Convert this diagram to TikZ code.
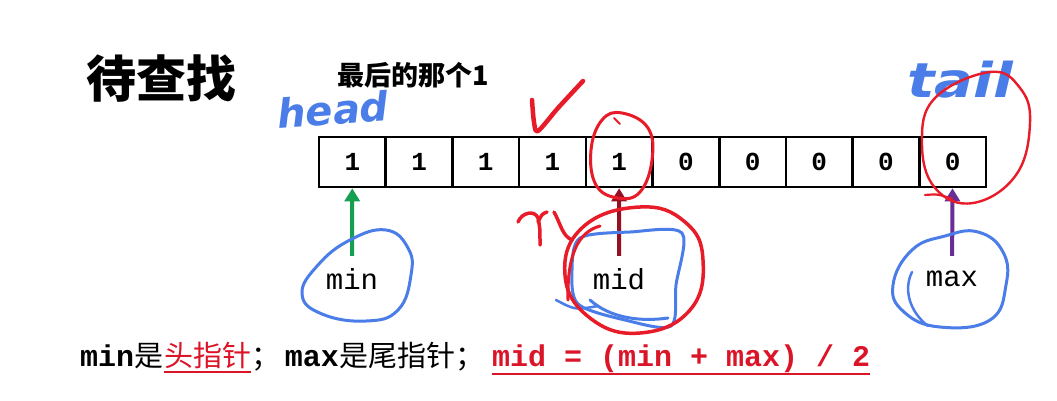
\documentclass[tikz,border=0pt]{standalone}
\usepackage{fontspec}
\setmonofont{Liberation Mono}
\newfontfamily\cjk{Noto Sans CJK SC}
\newfontfamily\handfont{DejaVu Sans}
\usetikzlibrary{arrows.meta}
\definecolor{penblue}{RGB}{74,125,232}
\definecolor{penred}{RGB}{232,28,40}
\definecolor{txtred}{RGB}{220,20,40}
\definecolor{arrgreen}{RGB}{20,160,80}
\definecolor{arrdred}{RGB}{150,15,35}
\definecolor{arrpurple}{RGB}{105,45,150}
\tikzset{
  cellbox/.style={draw, line width=2.6pt, minimum width=66.7pt, minimum height=50pt, inner sep=0pt,
    font=\ttfamily\bfseries\fontsize{26}{26}\selectfont},
  ptrlabel/.style={minimum height=46pt, inner sep=0pt, font=\ttfamily\fontsize{29}{29}\selectfont},
  ptrarrow/.style={line width=4pt, -{Triangle[width=15pt,length=13pt]}},
  bottomtxt/.style={anchor=base west, inner sep=0pt},
  monob/.style={font=\ttfamily\bfseries\fontsize{30}{30}\selectfont},
  cjkt/.style={font=\cjk\fontsize{29}{29}\selectfont},
  bluepen/.style={draw=penblue, line width=3.5pt, line cap=round, line join=round},
  redpen/.style={draw=penred, line width=3pt, line cap=round, line join=round},
  handtxt/.style={text=penblue, font=\handfont\bfseries\itshape}
}
\begin{document}
\begin{tikzpicture}[x=1pt,y=-1pt]
\useasboundingbox[fill=white] (0,0) rectangle (1057,400);

% titles
\node[font=\cjk\bfseries\fontsize{50}{50}\selectfont] (title) at (161,79) {待查找};
\node[font=\cjk\bfseries\fontsize{27}{27}\selectfont] (sub) at (413,75) {最后的那个\textbf{1}};

% cells
\foreach \v [count=\i from 0] in {1,1,1,1,1,0,0,0,0,0}
  \node[cellbox] (c\i) at ({319+66.7*(\i+0.5)},162) {\v};

% pointer labels
\node[ptrlabel] (min) at (352,279) {min};
\node[ptrlabel] (mid) at (619,279) {mid};
\node[ptrlabel] (max) at (952,279) {max};
\draw[ptrarrow, draw=arrgreen, fill=arrgreen] (min) -- (c0);
\draw[ptrarrow, draw=arrdred, fill=arrdred] (mid) -- (c4);
\draw[ptrarrow, draw=arrpurple, fill=arrpurple] (max) -- (c9);

% bottom line
\node[bottomtxt, monob] (b1) at (80,366) {min};
\node[bottomtxt, cjkt] (b2) at (b1.base east) {是};
\node[bottomtxt, cjkt, text=txtred] (b3) at (b2.base east) {头指针};
\node[bottomtxt, cjkt] (b4) at (b3.base east) {；};
\node[bottomtxt, monob] (b5) at ([xshift=4pt]b4.base east) {max};
\node[bottomtxt, cjkt] (b6) at (b5.base east) {是尾指针};
\node[bottomtxt, cjkt] (b7) at (b6.base east) {；};
\node[bottomtxt, monob, text=txtred] (b8) at ([xshift=7pt]b7.base east) {mid = (min + max) / 2};
\draw[txtred, line width=1.2pt] ([yshift=-6pt]b3.base west) -- ([yshift=-6pt]b3.base east);
\draw[txtred, line width=2.8pt] ([yshift=-8pt]b8.base west) -- ([yshift=-8pt]b8.base east);

% handwritten annotations
\node[handtxt, font=\handfont\bfseries\itshape\fontsize{40}{40}\selectfont, rotate=4] (head) at (333,110) {head};
\node[handtxt, font=\handfont\bfseries\itshape\fontsize{48}{48}\selectfont, xscale=1.2] (tail) at (960,80) {tail};

% check mark
\draw[redpen, line width=4.5pt] plot[smooth] coordinates {(532,100) (534,122) (538,131) (558,108) (583,81)};
% circle round cell 5
\draw[redpen] plot[smooth cycle, tension=0.7] coordinates {(622,113) (648,128) (652,160) (640,192) (618,198) (596,185) (591,150) (602,120)};
\draw[redpen, line width=2pt] (614,118) -- (620,124);
% big ellipse round tail
\draw[redpen, line width=2.4pt] plot[smooth cycle, tension=0.7] coordinates {(990,72) (1020,88) (1030,123) (1016,175) (973,203) (935,188) (922,143) (935,98)};
\draw[redpen, line width=2.2pt] (925,195) .. controls (938,194) .. (952,199);

% blob round min
\draw[bluepen, line width=3pt] plot[smooth cycle, tension=0.75] coordinates {(386,230) (408,248) (411,275) (398,310) (366,321) (322,314) (302,294) (318,265) (350,240)};
% blob round max
\draw[bluepen, line width=3pt] plot[smooth cycle, tension=0.75] coordinates {(978,232) (1003,252) (1006,285) (990,320) (940,327) (904,312) (893,285) (912,250) (945,236)};
\draw[bluepen, line width=2.5pt] (912,272) .. controls (903,290) and (910,312) .. (928,326);

% mid: blue rough square, red circle, red scribble
\draw[bluepen, line width=3pt] plot[smooth cycle, tension=0.5] coordinates {(580,238) (630,232) (682,233) (676,285) (671,326) (625,320) (578,304) (572,270)};
\draw[bluepen, line width=3pt] (590,300) .. controls (610,318) and (640,322) .. (668,318);
\draw[bluepen, line width=2.5pt] (556,300) .. controls (575,310) .. (598,306);
\draw[redpen, line width=3.5pt] plot[smooth cycle, tension=0.75] coordinates {(640,207) (685,222) (703,260) (690,310) (640,333) (590,318) (565,275) (583,227)};
\draw[redpen, line width=3pt] (600,226) .. controls (578,232) and (567,255) .. (568,300);
\draw[redpen, line width=3.5pt] (518,222) .. controls (522,212) and (535,210) .. (538,218) .. controls (540,228) .. (540,245);
\draw[redpen, line width=3.5pt] (538,222) .. controls (542,214) .. (547,212);
\draw[redpen, line width=3.5pt] (554,212) .. controls (560,222) and (562,236) .. (572,240);
\end{tikzpicture}
\end{document}
